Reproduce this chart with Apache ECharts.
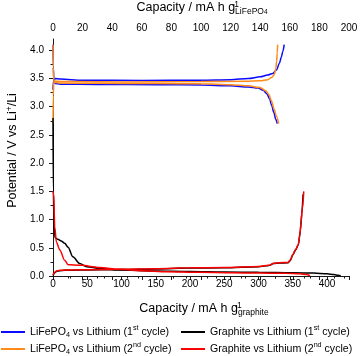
<!DOCTYPE html>
<html><head><meta charset="utf-8">
<script src="https://cdn.jsdelivr.net/npm/echarts@6/dist/echarts.min.js"></script>
<style>html,body{margin:0;padding:0;background:#fff}#c{width:362px;height:356px}</style>
</head><body><div id="c"></div>
<script>
// ---- tick labels ----
const graphiteTicks = [0, 50, 100, 150, 200, 250, 300, 350, 400];
const graphiteMinor = [25, 75, 125, 175, 225, 275, 325, 375, 425];
const lfpTicks = [0, 20, 40, 60, 80, 100, 120, 140, 160, 180, 200];
const potentialTicks = [0, 0.5, 1.0, 1.5, 2.0, 2.5, 3.0, 3.5, 4.0];
const potentialMinor = [0.25, 0.75, 1.25, 1.75, 2.25, 2.75, 3.25, 3.75];

// ---- series names ----
const names = [
  'LiFePO4 vs Lithium (1st cycle)',
  'LiFePO4 vs Lithium (2nd cycle)',
  'Graphite vs Lithium (1st cycle)',
  'Graphite vs Lithium (2nd cycle)'
];

// ---- LiFePO4 vs Li (top axis, mA h g-1 LiFePO4) ----
const lfp1ChgCap = [0, 0.3, 1.5, 5, 20, 60, 100, 120, 132, 140, 145, 148.5, 151, 153, 154.3, 155.3, 156.2];
const lfp1ChgV   = [3.30, 3.45, 3.50, 3.49, 3.47, 3.465, 3.47, 3.48, 3.50, 3.53, 3.56, 3.59, 3.65, 3.77, 3.88, 3.98, 4.10];
const lfp1DisCap = [0, 0.2, 0.6, 1.5, 5, 30, 70, 100, 120, 132, 138.5, 142, 144.5, 146.3, 147.8, 149.2, 150.5, 151.5];
const lfp1DisV   = [4.10, 3.70, 3.45, 3.41, 3.40, 3.395, 3.39, 3.385, 3.37, 3.35, 3.33, 3.29, 3.23, 3.14, 3.02, 2.90, 2.78, 2.70];
const lfp2ChgCap = [0, 0.2, 0.6, 2, 10, 50, 100, 130, 140, 145, 148, 149.5, 150.5, 151.1, 151.5, 151.8];
const lfp2ChgV   = [2.70, 3.20, 3.46, 3.45, 3.445, 3.44, 3.445, 3.45, 3.46, 3.48, 3.52, 3.57, 3.66, 3.80, 3.95, 4.10];
const lfp2DisCap = [0, 0.2, 0.6, 1.5, 5, 30, 70, 100, 120, 132, 139.7, 144, 146, 147.5, 149.5, 151, 152.5];
const lfp2DisV   = [4.10, 3.70, 3.46, 3.43, 3.42, 3.415, 3.41, 3.405, 3.39, 3.37, 3.34, 3.28, 3.21, 3.11, 2.95, 2.83, 2.70];

// ---- Graphite vs Li (bottom axis, mA h g-1 graphite) ----
const gr1LithCap = [0, 0.5, 1.5, 3, 7, 12, 17, 22, 29, 39, 49, 68, 95, 150, 200, 250, 300, 350, 380, 400, 410, 416, 420];
const gr1LithV   = [2.80, 1.50, 0.90, 0.68, 0.65, 0.62, 0.58, 0.51, 0.34, 0.22, 0.165, 0.135, 0.105, 0.09, 0.08, 0.07, 0.065, 0.058, 0.052, 0.04, 0.025, 0.012, 0.005];
const gr1DelCap  = [0, 2, 5, 10, 17, 40, 100, 150, 200, 250, 300, 315, 322, 330, 343, 346, 350, 354, 358, 361, 363, 365];
const gr1DelV    = [0.01, 0.05, 0.08, 0.095, 0.10, 0.105, 0.115, 0.125, 0.14, 0.145, 0.165, 0.185, 0.22, 0.23, 0.235, 0.27, 0.37, 0.46, 0.55, 0.80, 1.10, 1.45];
const gr2LithCap = [0, 1, 2.5, 5, 10, 17, 22, 30, 44, 55, 68, 97, 130, 166, 214, 260, 300, 340, 360, 370, 375];
const gr2LithV   = [1.50, 1.46, 0.87, 0.60, 0.46, 0.28, 0.20, 0.195, 0.19, 0.17, 0.15, 0.12, 0.095, 0.077, 0.065, 0.058, 0.052, 0.047, 0.04, 0.025, 0.005];
const gr2DelCap  = [0, 2, 5, 10, 17, 40, 100, 150, 200, 250, 300, 315, 322, 330, 343, 346, 350, 354, 358, 360, 362, 364, 366];
const gr2DelV    = [0.02, 0.06, 0.09, 0.10, 0.105, 0.11, 0.12, 0.13, 0.145, 0.15, 0.17, 0.19, 0.225, 0.235, 0.24, 0.28, 0.38, 0.47, 0.56, 0.70, 0.95, 1.20, 1.50];

const FONT = 'Liberation Sans, Arial, sans-serif';
const pair = (xs, ys) => xs.map((x, i) => [x, ys[i]]);

const legendRich = {
  n: { fontSize: 10.6, lineHeight: 14, color: '#000', fontFamily: FONT },
  s: { fontSize: 7.2, lineHeight: 8, verticalAlign: 'bottom', color: '#000', fontFamily: FONT },
  p: { fontSize: 7.2, lineHeight: 6, verticalAlign: 'top', color: '#000', fontFamily: FONT }
};
const legendFmt = {};
legendFmt[names[0]] = '{n|LiFePO}{s|4}{n| vs Lithium (1}{p|st}{n| cycle)}';
legendFmt[names[1]] = '{n|LiFePO}{s|4}{n| vs Lithium (2}{p|nd}{n| cycle)}';
legendFmt[names[2]] = '{n|Graphite vs Lithium (1}{p|st}{n| cycle)}';
legendFmt[names[3]] = '{n|Graphite vs Lithium (2}{p|nd}{n| cycle)}';
const legendSpots = [[1, 325], [1, 342], [181, 325], [181, 342]];

const axisLineStyle = { color: '#1a1a1a', width: 1 };
const titleRich = {
  n: { fontSize: 12.5, lineHeight: 16, color: '#000', fontFamily: FONT },
  p0: { fontSize: 8.5, lineHeight: 7, verticalAlign: 'top', width: 0, color: '#000', fontFamily: FONT },
  p: { fontSize: 8.5, lineHeight: 8, verticalAlign: 'top', color: '#000', fontFamily: FONT },
  s: { fontSize: 8.5, lineHeight: 7, verticalAlign: 'bottom', color: '#000', fontFamily: FONT },
  s2: { fontSize: 6.5, lineHeight: 3, verticalAlign: 'bottom', color: '#000', fontFamily: FONT }
};

function lineSeries(name, xs, ys, color, xIdx) {
  return {
    type: 'line', name: name, xAxisIndex: xIdx, yAxisIndex: 0,
    data: pair(xs, ys), showSymbol: false, symbol: 'none',
    smooth: 0.3, smoothMonotone: 'x',
    lineStyle: { color: color, width: 1.5 }, itemStyle: { color: color },
    animation: false, silent: true
  };
}

const BLUE = '#0a0aff', ORANGE = '#ff8c1a', BLACK = '#000000', RED = '#ff0000';

const option = {
  animation: false,
  textStyle: { fontFamily: FONT },
  grid: { left: 53, right: 13, top: 39, bottom: 80, containLabel: false, outerBoundsMode: 'none' },
  xAxis: [
    { type: 'value', position: 'bottom', min: 0, max: 432,
      axisLine: { show: true, lineStyle: axisLineStyle },
      axisTick: { show: true, customValues: graphiteTicks, inside: false, length: 4, lineStyle: axisLineStyle },
      axisLabel: { show: true, customValues: graphiteTicks, margin: 3, fontSize: 10, color: '#000', fontFamily: FONT },
      splitLine: { show: false },
      name: '{n|Capacity / mA h g}{p0|-1}{s|graphite}', nameLocation: 'middle', nameGap: 25,
      nameTextStyle: { rich: titleRich, padding: [0, 0, 0, 6] } },
    { type: 'value', position: 'top', min: 0, max: 200, interval: 20,
      axisLine: { show: true, lineStyle: axisLineStyle },
      axisTick: { show: true, inside: true, length: 4, lineStyle: axisLineStyle },
      minorTick: { show: true, splitNumber: 2, length: 2.5, lineStyle: axisLineStyle },
      axisLabel: { show: true, margin: 6, fontSize: 10, color: '#000', fontFamily: FONT },
      splitLine: { show: false }, minorSplitLine: { show: false },
      name: '{n|Capacity / mA h g}{p0|-1}{s|LiFePO}{s2|4}', nameLocation: 'middle', nameGap: 23,
      nameTextStyle: { rich: titleRich, padding: [0, 0, 0, 2] } },
    { type: 'value', position: 'bottom', min: 0, max: 432,
      axisLine: { show: false },
      axisTick: { show: true, customValues: graphiteMinor, inside: false, length: 2.5, lineStyle: axisLineStyle },
      axisLabel: { show: false }, splitLine: { show: false } }
  ],
  yAxis: [
    { type: 'value', position: 'left', min: 0, max: 4.2,
      axisLine: { show: true, lineStyle: axisLineStyle },
      axisTick: { show: true, customValues: potentialTicks, inside: false, length: 4, lineStyle: axisLineStyle },
      axisLabel: { show: true, customValues: potentialTicks, margin: 9, fontSize: 10, color: '#000', fontFamily: FONT,
        formatter: v => Number(v).toFixed(1) },
      splitLine: { show: false },
      name: '{n|Potential / V vs Li}{p|+}{n|/Li}', nameLocation: 'middle', nameGap: 31, nameRotate: 90,
      nameTextStyle: { rich: titleRich, padding: [0, 0, 0, 14] } },
    { type: 'value', position: 'left', min: 0, max: 4.2,
      axisLine: { show: false },
      axisTick: { show: true, customValues: potentialMinor, inside: false, length: 2.5, lineStyle: axisLineStyle },
      axisLabel: { show: false }, splitLine: { show: false } }
  ],
  legend: names.map((n, i) => ({
    data: [n], orient: 'horizontal', left: legendSpots[i][0], top: legendSpots[i][1],
    itemWidth: 24, itemHeight: 2, icon: 'rect', formatter: nm => legendFmt[nm],
    textStyle: { rich: legendRich, fontFamily: FONT }, selectedMode: false, padding: 0
  })),
  series: [
    lineSeries(names[0], lfp1ChgCap, lfp1ChgV, BLUE, 1),
    lineSeries(names[0], lfp1DisCap, lfp1DisV, BLUE, 1),
    lineSeries(names[1], lfp2ChgCap, lfp2ChgV, ORANGE, 1),
    lineSeries(names[1], lfp2DisCap, lfp2DisV, ORANGE, 1),
    lineSeries(names[2], gr1LithCap, gr1LithV, BLACK, 0),
    lineSeries(names[2], gr1DelCap, gr1DelV, BLACK, 0),
    lineSeries(names[3], gr2LithCap, gr2LithV, RED, 0),
    lineSeries(names[3], gr2DelCap, gr2DelV, RED, 0)
  ]
};
const chart = echarts.init(document.getElementById('c'), null, { renderer: 'canvas' });
chart.setOption(option);
</script>
</body></html>
